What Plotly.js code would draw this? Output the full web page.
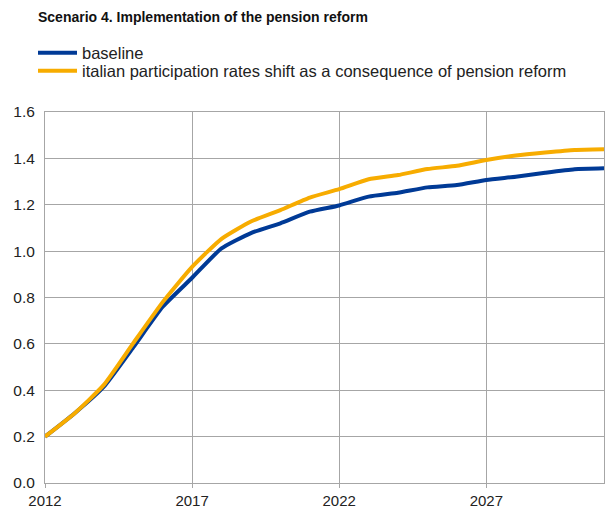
<!DOCTYPE html>
<html>
<head>
<meta charset="utf-8">
<script src="https://cdn.plot.ly/plotly-3.0.1.min.js"></script>
<style>html,body{margin:0;padding:0;background:#fff}#chart{width:606px;height:510px}</style>
</head>
<body>
<div id="chart"></div>
<script>
var years = [2012,2013,2014,2015,2016,2017,2018,2019,2020,2021,2022,2023,2024,2025,2026,2027,2028,2029,2030,2031];
var baseline = [0.20,0.30,0.415,0.585,0.76,0.885,1.012,1.078,1.12,1.17,1.197,1.235,1.252,1.275,1.285,1.307,1.321,1.338,1.353,1.357];
var reform = [0.20,0.30,0.423,0.603,0.78,0.932,1.053,1.128,1.177,1.231,1.267,1.31,1.328,1.354,1.368,1.393,1.412,1.425,1.436,1.439];
var seriesNames = ["baseline","italian participation rates shift as a consequence of pension reform"];
var tickYears = [2012,2017,2022,2027];

var traces = [
  {x: years, y: baseline, name: seriesNames[0], type: 'scatter', mode: 'lines', legend: 'legend',
   line: {color: '#003a96', width: 4, shape: 'spline', smoothing: 0.5}},
  {x: years, y: reform, name: seriesNames[1], type: 'scatter', mode: 'lines', legend: 'legend2',
   line: {color: '#f7ac00', width: 4, shape: 'spline', smoothing: 0.5}}
];
var plotTop = 112, plotH = 371, plotL = 45, plotW = 559;
function legendAt(yPix) {
  return {x: (33 - plotL) / plotW, y: 1 + (plotTop - yPix) / plotH, xref: 'paper', yref: 'paper',
          xanchor: 'left', yanchor: 'middle', orientation: 'v',
          font: {size: 16.5, color: '#222'}, itemwidth: 39,
          bgcolor: 'rgba(0,0,0,0)', borderwidth: 0};
}
var layout = {
  width: 606, height: 510,
  margin: {l: plotL, r: 2, t: plotTop, b: 27},
  paper_bgcolor: '#fff', plot_bgcolor: '#fff',
  font: {family: 'Liberation Sans, Arial, sans-serif', size: 14, color: '#222'},
  title: {text: '<b>Scenario 4. Implementation of the pension reform</b>',
          font: {size: 14, color: '#111'}, xref: 'container', yref: 'container',
          x: 38 / 606, xanchor: 'left', y: 1 - 17 / 510, yanchor: 'middle'},
  showlegend: true,
  legend: legendAt(53),
  legend2: legendAt(71),
  xaxis: {range: [2012, 2031], tickvals: tickYears, ticktext: tickYears.map(String),
          showgrid: true, gridcolor: '#a6a6a6', gridwidth: 1,
          showline: true, linecolor: '#a6a6a6', linewidth: 1, mirror: true,
          ticks: 'outside', ticklen: 4, tickcolor: '#a6a6a6', zeroline: false,
          tickfont: {size: 15, color: '#222'}, fixedrange: true, automargin: false},
  yaxis: {range: [0, 1.6], dtick: 0.2, tick0: 0, tickformat: '.1f',
          showgrid: true, gridcolor: '#a6a6a6', gridwidth: 1,
          showline: true, linecolor: '#a6a6a6', linewidth: 1, mirror: true,
          ticks: '', zeroline: false, ticklabelstandoff: 6,
          tickfont: {size: 15.5, color: '#222'}, fixedrange: true, automargin: false}
};
Plotly.newPlot('chart', traces, layout, {displayModeBar: false, staticPlot: true});
</script>
</body>
</html>
